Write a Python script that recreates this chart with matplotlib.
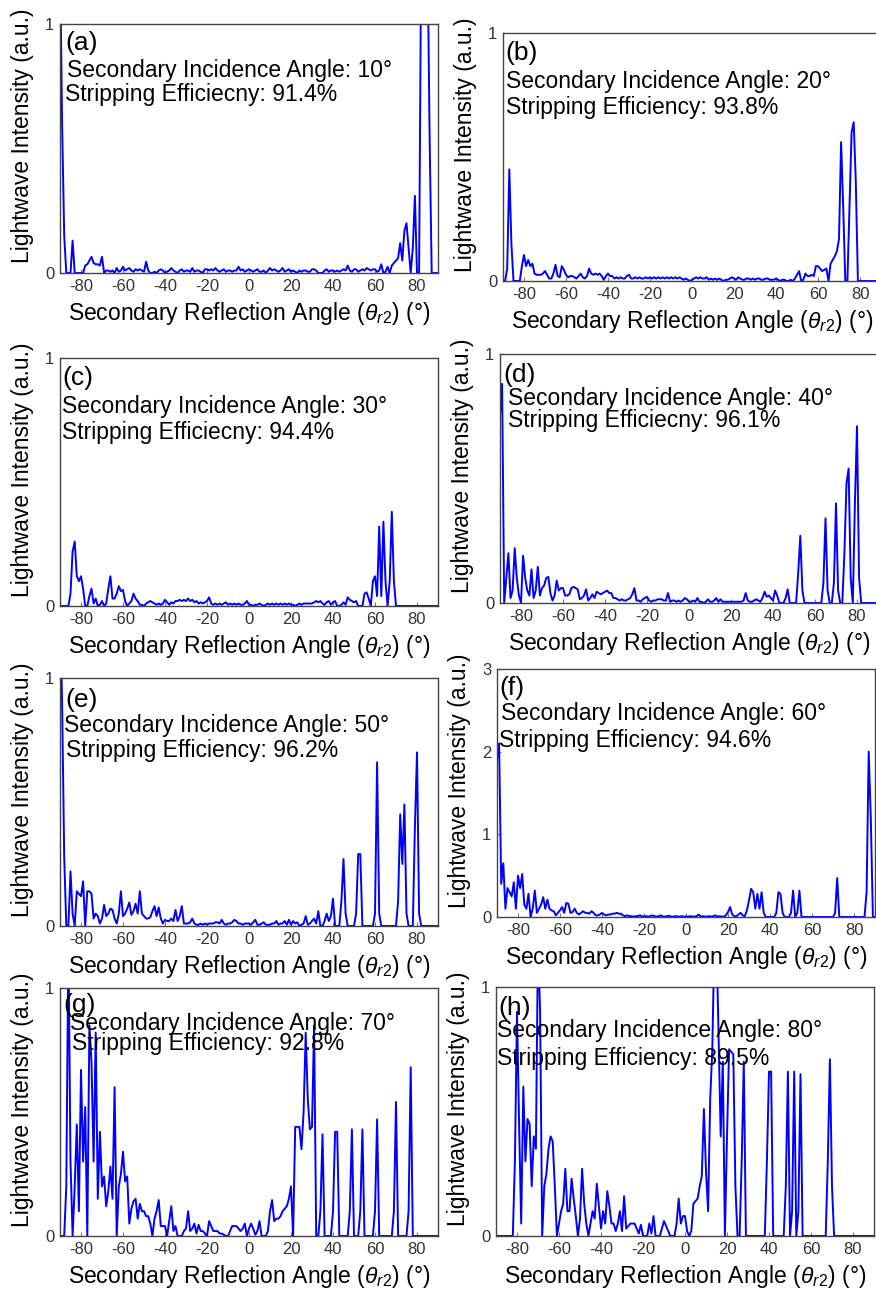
import matplotlib.pyplot as plt
import numpy as np

plt.rcParams['font.family'] = ['Liberation Sans', 'DejaVu Sans']
plt.rcParams['mathtext.fontset'] = 'custom'
plt.rcParams['mathtext.rm'] = 'Liberation Sans'
plt.rcParams['mathtext.it'] = 'Liberation Sans:italic'
plt.rcParams['axes.unicode_minus'] = False

# reflection angle grid, 1 degree steps
angles = np.arange(-90, 91)

# normalised lightwave intensity, rows of ten degrees starting at -90
intensity_10 = [
    1.3, 0.6, 0.15, 0, 0, 0, 0.13, 0, 0, 0,
    0, 0, 0.03, 0.035, 0.05, 0.065, 0.04, 0.035, 0.035, 0.03,
    0.065, 0, 0.01, 0.01, 0.005, 0.01, 0, 0.02, 0.005, 0.01,
    0.025, 0.01, 0.015, 0.02, 0.01, 0.005, 0.015, 0.01, 0.015, 0.01,
    0.005, 0.045, 0.01, 0, 0, 0.005, 0, 0.01, 0.015, 0.01,
    0, 0.005, 0.01, 0.02, 0.01, 0.005, 0, 0.01, 0.015, 0.005,
    0.01, 0.01, 0.005, 0.02, 0.005, 0.01, 0.01, 0.005, 0, 0.015,
    0.015, 0.01, 0.015, 0.01, 0.02, 0.01, 0.005, 0.01, 0.015, 0.005,
    0.01, 0.01, 0.005, 0.01, 0.01, 0.025, 0.01, 0.015, 0.005, 0.01,
    0.015, 0.01, 0.005, 0.01, 0.015, 0.005, 0.005, 0.01, 0, 0.01,
    0.02, 0.01, 0.015, 0.01, 0.005, 0.01, 0.02, 0.005, 0.01, 0.015,
    0.005, 0.01, 0.005, 0, 0.01, 0.005, 0.01, 0.01, 0.005, 0.005,
    0.015, 0.015, 0.01, 0, 0, 0, 0.01, 0.015, 0.005, 0.01,
    0.01, 0.005, 0.01, 0.005, 0.01, 0.015, 0.01, 0.03, 0.01, 0.005,
    0.015, 0.015, 0.005, 0.01, 0.015, 0.01, 0.02, 0.015, 0.01, 0.015,
    0.015, 0.005, 0.01, 0.035, 0, 0.005, 0.025, 0, 0.03, 0.04,
    0.05, 0.06, 0.12, 0.05, 0.17, 0.2, 0.1, 0, 0.1, 0.31,
    0, 0, 1.3, 1.1, 1.3, 1.3, 0.55, 0, 0, 0,
    0,
]

intensity_20 = [
    0, 0, 0.05, 0.45, 0.15, 0, 0, 0, 0, 0.06,
    0.105, 0.06, 0.085, 0.06, 0.07, 0.03, 0.025, 0.025, 0.025, 0.03,
    0.04, 0.025, 0.01, 0.01, 0.03, 0.065, 0.02, 0.015, 0.06, 0.045,
    0.025, 0.015, 0.02, 0.02, 0.015, 0.01, 0.02, 0.03, 0.015, 0.01,
    0.02, 0.05, 0.03, 0.025, 0.03, 0.025, 0.03, 0.02, 0.005, 0.02,
    0.03, 0.02, 0.02, 0.01, 0.015, 0.01, 0.015, 0.01, 0.01, 0.02,
    0.025, 0.01, 0.01, 0.015, 0.01, 0.015, 0.01, 0.01, 0.015, 0.01,
    0.015, 0.01, 0.015, 0.01, 0.015, 0.01, 0.015, 0.01, 0.015, 0.01,
    0.015, 0.01, 0.015, 0.01, 0.015, 0.01, 0.005, 0.01, 0.005, 0,
    0.005, 0.01, 0.015, 0.01, 0.015, 0.01, 0.01, 0.015, 0.005, 0.01,
    0.005, 0.01, 0.005, 0.01, 0.005, 0, 0.005, 0.005, 0.01, 0.015,
    0.01, 0.005, 0.015, 0.01, 0.005, 0.005, 0.01, 0.01, 0.005, 0.01,
    0.005, 0.01, 0.01, 0.005, 0.005, 0.01, 0.01, 0.005, 0.005, 0.005,
    0.01, 0.005, 0, 0.005, 0.005, 0, 0, 0.005, 0, 0.01,
    0.025, 0.04, 0, 0.005, 0.03, 0.02, 0.02, 0.025, 0.02, 0.06,
    0.06, 0.05, 0.04, 0.045, 0.05, 0, 0.07, 0.085, 0.1, 0.12,
    0.17, 0.56, 0.3, 0, 0, 0.3, 0.6, 0.64, 0.4, 0,
    0, 0, 0, 0, 0, 0, 0, 0, 0, 0,
    0,
]

intensity_30 = [
    0, 0, 0, 0, 0, 0.05, 0.22, 0.26, 0.12, 0.1,
    0.12, 0.07, 0, 0, 0.04, 0.07, 0.01, 0.03, 0, 0.005,
    0.02, 0, 0.01, 0.07, 0.12, 0.03, 0.03, 0.05, 0.08, 0.06,
    0.065, 0.02, 0, 0.01, 0.02, 0.05, 0.03, 0.02, 0.005, 0.005,
    0, 0.01, 0.015, 0.02, 0.015, 0.01, 0.005, 0.01, 0.005, 0.01,
    0.025, 0.015, 0.005, 0.015, 0.01, 0.02, 0.02, 0.025, 0.02, 0.025,
    0.02, 0.03, 0.02, 0.025, 0.015, 0.02, 0.01, 0.015, 0.01, 0.015,
    0.02, 0.035, 0.01, 0.005, 0.01, 0.005, 0.01, 0.005, 0.01, 0.015,
    0.005, 0.01, 0.005, 0.01, 0.005, 0.01, 0.005, 0.005, 0.01, 0.02,
    0.005, 0.005, 0, 0.005, 0.005, 0.01, 0.005, 0, 0.005, 0.01,
    0.005, 0.01, 0.005, 0.01, 0.005, 0.01, 0.005, 0.01, 0.005, 0.01,
    0.005, 0.005, 0, 0.005, 0.01, 0.005, 0.01, 0.01, 0.01, 0.01,
    0.01, 0.015, 0.02, 0.015, 0.02, 0.01, 0.005, 0.015, 0.02, 0.005,
    0.015, 0.02, 0, 0, 0.005, 0.015, 0.005, 0.035, 0.025, 0.02,
    0.015, 0.02, 0, 0, 0, 0.05, 0.055, 0.03, 0, 0.1,
    0.12, 0.04, 0.32, 0.04, 0.34, 0.1, 0, 0.1, 0.38, 0.1,
    0, 0, 0, 0, 0, 0, 0, 0, 0, 0,
    0, 0, 0, 0, 0, 0, 0, 0, 0, 0,
    0,
]

intensity_40 = [
    0.75, 0.88, 0, 0.1, 0.2, 0.02, 0.05, 0.22, 0.1, 0.03,
    0, 0.19, 0.1, 0.05, 0.03, 0.135, 0.02, 0.05, 0.145, 0.03,
    0.06, 0.07, 0.1, 0.105, 0.04, 0.01, 0.03, 0.09, 0.05, 0.06,
    0.06, 0.03, 0.03, 0.035, 0.06, 0.065, 0.06, 0.055, 0.015, 0.02,
    0.03, 0.055, 0.01, 0.02, 0.035, 0.02, 0.045, 0.04, 0.035, 0.04,
    0.045, 0.05, 0.04, 0.04, 0.02, 0.02, 0.015, 0.01, 0.015, 0.01,
    0.01, 0.015, 0.02, 0.035, 0.06, 0.01, 0.01, 0.005, 0.015, 0.02,
    0.025, 0.01, 0.005, 0.01, 0.01, 0.015, 0.015, 0.015, 0.01, 0.01,
    0.04, 0.005, 0.01, 0.01, 0.005, 0.01, 0.005, 0.01, 0.02, 0.015,
    0.005, 0.005, 0.01, 0.005, 0.02, 0.005, 0.005, 0, 0.005, 0.015,
    0.005, 0.005, 0.01, 0.02, 0.005, 0.015, 0.005, 0.005, 0.005, 0.005,
    0.005, 0.005, 0.005, 0.005, 0.005, 0.005, 0.01, 0.04, 0.01, 0.005,
    0.005, 0.01, 0.015, 0.01, 0.005, 0.02, 0.045, 0.025, 0.03, 0.02,
    0.01, 0.05, 0.03, 0, 0, 0, 0.02, 0.055, 0, 0,
    0, 0, 0.12, 0.27, 0.05, 0, 0, 0, 0, 0,
    0, 0, 0, 0, 0.08, 0.34, 0.05, 0, 0, 0.08,
    0.4, 0.05, 0, 0, 0.2, 0.48, 0.54, 0.1, 0, 0.4,
    0.71, 0.1, 0, 0, 0, 0, 0, 0, 0, 0,
    0,
]

intensity_50 = [
    1.3, 0.9, 0.28, 0, 0, 0.22, 0.05, 0, 0.14, 0.13,
    0.12, 0.18, 0, 0.14, 0.14, 0.13, 0.03, 0.05, 0.04, 0.01,
    0.03, 0.085, 0.04, 0.05, 0.07, 0.065, 0.03, 0.01, 0.05, 0.14,
    0.04, 0.05, 0.07, 0.095, 0.045, 0.06, 0.09, 0.05, 0.14, 0.05,
    0.04, 0.03, 0.03, 0.035, 0.06, 0.08, 0.04, 0.075, 0.03, 0.01,
    0.025, 0.02, 0.02, 0.03, 0.02, 0.065, 0.02, 0.04, 0.08, 0.01,
    0.01, 0.01, 0.015, 0.03, 0.01, 0.005, 0.005, 0.01, 0.005, 0.01,
    0.005, 0.01, 0.01, 0.01, 0.015, 0.015, 0.01, 0.025, 0.01, 0.005,
    0.01, 0.01, 0.015, 0.025, 0.02, 0.01, 0.01, 0.005, 0.01, 0.01,
    0.01, 0.005, 0.015, 0.025, 0.005, 0.005, 0.01, 0.015, 0.005, 0.005,
    0.005, 0.01, 0.01, 0.02, 0.005, 0.01, 0.01, 0.02, 0.005, 0.025,
    0.005, 0.02, 0.01, 0.015, 0, 0.005, 0.01, 0.04, 0.005, 0.01,
    0.02, 0.03, 0.01, 0.06, 0, 0, 0.02, 0.05, 0.02, 0.04,
    0.11, 0, 0, 0, 0.1, 0.27, 0.05, 0, 0, 0,
    0, 0.05, 0.29, 0.29, 0, 0, 0, 0, 0, 0,
    0.05, 0.66, 0.05, 0, 0, 0, 0, 0, 0, 0,
    0, 0.1, 0.45, 0.25, 0.49, 0.05, 0, 0, 0, 0.4,
    0.7, 0.05, 0, 0, 0, 0, 0, 0, 0, 0,
    0,
]

intensity_60 = [
    1.9, 2.1, 0.4, 0.65, 0.1, 0.35, 0.3, 0.25, 0.42, 0.1,
    0.5, 0.35, 0.52, 0.15, 0.1, 0.28, 0, 0.1, 0.32, 0.05,
    0.1, 0.15, 0.24, 0.1, 0.21, 0.1, 0.08, 0.07, 0.02, 0.05,
    0.08, 0.12, 0.05, 0.17, 0.16, 0.05, 0.06, 0.1, 0.05, 0.03,
    0.05, 0.07, 0.05, 0.05, 0.04, 0.07, 0.05, 0.02, 0.02, 0.03,
    0.05, 0.03, 0.02, 0.03, 0.03, 0.04, 0.04, 0.05, 0.04, 0.04,
    0.02, 0.01, 0.02, 0.01, 0.01, 0.005, 0.01, 0.01, 0.02, 0.01,
    0.005, 0.01, 0.005, 0.01, 0.02, 0.01, 0.005, 0.01, 0.02, 0.005,
    0.005, 0.01, 0.015, 0.005, 0.005, 0.01, 0.005, 0.005, 0.01, 0.005,
    0.005, 0.005, 0.01, 0.005, 0.005, 0.01, 0.03, 0.005, 0.01, 0.005,
    0.005, 0.01, 0.005, 0.01, 0.02, 0.005, 0.01, 0.005, 0.005, 0.02,
    0.06, 0.12, 0.03, 0.01, 0.01, 0.03, 0.05, 0.02, 0.01, 0.08,
    0.2, 0.34, 0.3, 0.1, 0.28, 0.1, 0.3, 0.05, 0, 0,
    0, 0, 0, 0.05, 0.3, 0.28, 0.05, 0, 0, 0,
    0.05, 0.32, 0, 0.05, 0.32, 0, 0, 0, 0, 0,
    0, 0, 0, 0, 0, 0, 0, 0, 0, 0,
    0, 0.05, 0.47, 0, 0, 0, 0, 0, 0, 0,
    0, 0, 0, 0, 0, 0, 0.3, 2.0, 1.2, 0,
    0,
]

intensity_70 = [
    0, 0, 0, 0.2, 1.2, 0.3, 0, 0.2, 0.45, 0.1,
    0.67, 0.3, 0.52, 0, 0.85, 0.7, 0.3, 0.82, 0.15, 0.42,
    0.2, 0.24, 0.12, 0.18, 0.28, 0.15, 0.6, 0, 0.2, 0.25,
    0.34, 0.22, 0.24, 0.05, 0.11, 0.14, 0.15, 0.07, 0.13, 0.1,
    0.1, 0.08, 0.08, 0.05, 0, 0.07, 0.1, 0.145, 0.04, 0.04,
    0.04, 0, 0.06, 0.12, 0.02, 0.04, 0, 0, 0, 0.02,
    0.03, 0.1, 0.02, 0.03, 0.05, 0.01, 0.045, 0.02, 0.02, 0.01,
    0, 0.06, 0.04, 0.02, 0.02, 0.02, 0.01, 0.01, 0.005, 0,
    0, 0.02, 0.04, 0.04, 0.04, 0.03, 0.02, 0.03, 0.05, 0,
    0.03, 0.05, 0.03, 0.005, 0.02, 0.06, 0, 0, 0, 0.02,
    0.1, 0.145, 0.06, 0.07, 0.07, 0.08, 0.1, 0.11, 0.12, 0.15,
    0.2, 0, 0.44, 0.44, 0.44, 0.35, 0.5, 0.82, 0.55, 0.43,
    0.44, 0.85, 0, 0, 0.1, 0.41, 0, 0, 0, 0,
    0.1, 0.42, 0.42, 0, 0, 0, 0, 0, 0.1, 0.43,
    0, 0, 0, 0.1, 0.43, 0, 0, 0, 0, 0,
    0.1, 0.47, 0, 0, 0, 0, 0, 0, 0, 0.1,
    0.54, 0, 0, 0, 0, 0, 0.1, 0.68, 0, 0,
    0, 0, 0, 0, 0, 0, 0, 0, 0, 0,
    0,
]

intensity_80 = [
    0, 0, 0, 0, 0, 0, 0, 0, 0, 0.3,
    0.9, 0.45, 0.05, 0.6, 0.3, 0.47, 0.45, 0.2, 0.4, 0.35,
    1.2, 0.9, 0, 0.2, 0.25, 0.35, 0.4, 0.38, 0.2, 0,
    0.05, 0.1, 0.13, 0.27, 0.1, 0.1, 0.23, 0.15, 0.08, 0,
    0.07, 0.27, 0.13, 0.05, 0, 0.05, 0.1, 0.07, 0.21, 0.12,
    0.03, 0.1, 0.05, 0.18, 0.12, 0.05, 0.05, 0.02, 0.05, 0.1,
    0.02, 0.16, 0.03, 0.04, 0.05, 0.05, 0.05, 0.03, 0.01, 0.045,
    0, 0, 0, 0.05, 0.01, 0.08, 0, 0, 0, 0.03,
    0.06, 0.04, 0.02, 0, 0, 0, 0.05, 0.15, 0.05, 0.08,
    0.08, 0.02, 0, 0.02, 0.13, 0.14, 0.15, 0.2, 0.24, 0.51,
    0.26, 0.1, 0.55, 0.75, 1.2, 1.2, 0.8, 0.4, 0.7, 0,
    0.4, 0.75, 0.74, 0.73, 0.2, 0, 0, 0.3, 0.7, 0,
    0, 0, 0, 0, 0, 0, 0, 0, 0, 0.3,
    0.66, 0.66, 0, 0, 0, 0, 0, 0, 0.2, 0.66,
    0, 0.1, 0.66, 0, 0.1, 0.65, 0, 0, 0, 0,
    0, 0, 0, 0, 0, 0, 0, 0, 0.3, 0.71,
    0.2, 0, 0, 0, 0, 0, 0, 0, 0, 0,
    0, 0, 0, 0, 0, 0, 0, 0, 0, 0,
    0,
]

spectra = [intensity_10, intensity_20, intensity_30, intensity_40,
           intensity_50, intensity_60, intensity_70, intensity_80]
panel_tags = ['(a)', '(b)', '(c)', '(d)', '(e)', '(f)', '(g)', '(h)']
incidence_angles = [10, 20, 30, 40, 50, 60, 70, 80]
efficiencies = [91.4, 93.8, 94.4, 96.1, 96.2, 94.6, 92.8, 89.5]
efficiency_words = ['Efficiecny', 'Efficiency', 'Efficiecny', 'Efficiecny',
                    'Efficiency', 'Efficiency', 'Efficiency', 'Efficiency']
y_tops = [1, 1, 1, 1, 1, 3, 1, 1]
x_ticks = [-80, -60, -40, -20, 0, 20, 40, 60, 80]

# axes frames in pixels: left, top, right, bottom
W, H = 876, 1291
frames = [(60, 24, 438, 273), (503, 33, 881, 281),
          (60, 358, 438, 606), (500, 354, 878, 603),
          (60, 678, 438, 926), (497, 669, 875, 917),
          (60, 988, 438, 1236), (496, 987, 874, 1236)]

# text baselines relative to the axes top-left corner (pixels): tag, line 1, line 2
text_offsets = [((5, 26), (7, 53), (5, 77)),
                ((2, 27), (3, 55), (3, 81)),
                ((2, 27), (2, 55), (2, 81)),
                ((3, 28), (8, 51), (8, 73)),
                ((5, 29), (4, 54), (6, 79)),
                ((2, 26), (4, 51), (2, 78)),
                ((3, 24), (10, 42), (12, 62)),
                ((2, 28), (1, 50), (1, 78))]

fig = plt.figure(figsize=(W / 100, H / 100), dpi=100)

for i in range(len(spectra)):
    left, top, right, bottom = frames[i]
    ax = fig.add_axes([left / W, 1 - bottom / H, (right - left) / W, (bottom - top) / H])

    ax.plot(angles, spectra[i], color='#0000ff', lw=1.4)

    ax.set_xlim(-90, 90)
    ax.set_ylim(0, y_tops[i])
    ax.set_xticks(x_ticks)
    ax.set_yticks(range(0, y_tops[i] + 1))
    ax.tick_params(direction='in', length=3, width=0.8, color='#777777',
                   labelcolor='#333333', labelsize=12, pad=4)
    for spine in ax.spines.values():
        spine.set_color('#444444')
        spine.set_linewidth(1.0)

    ax.set_xlabel(r'Secondary Reflection Angle ($\theta_{r2}$) (°)', fontsize=16.5)
    ax.xaxis.set_label_coords(0.5, -0.11)
    ax.set_ylabel('Lightwave Intensity (a.u.)', fontsize=16.5)
    ax.yaxis.set_label_coords(-0.07, 0.55)

    tag_off, l1_off, l2_off = text_offsets[i]
    fig.text((left + tag_off[0]) / W, 1 - (top + tag_off[1]) / H, panel_tags[i],
             fontsize=19, va='baseline')
    fig.text((left + l1_off[0]) / W, 1 - (top + l1_off[1]) / H,
             f'Secondary Incidence Angle: {incidence_angles[i]}°',
             fontsize=16.5, va='baseline')
    fig.text((left + l2_off[0]) / W, 1 - (top + l2_off[1]) / H,
             f'Stripping {efficiency_words[i]}: {efficiencies[i]}%',
             fontsize=16.5, va='baseline')

fig.savefig('out.png', dpi=100, facecolor='white')
